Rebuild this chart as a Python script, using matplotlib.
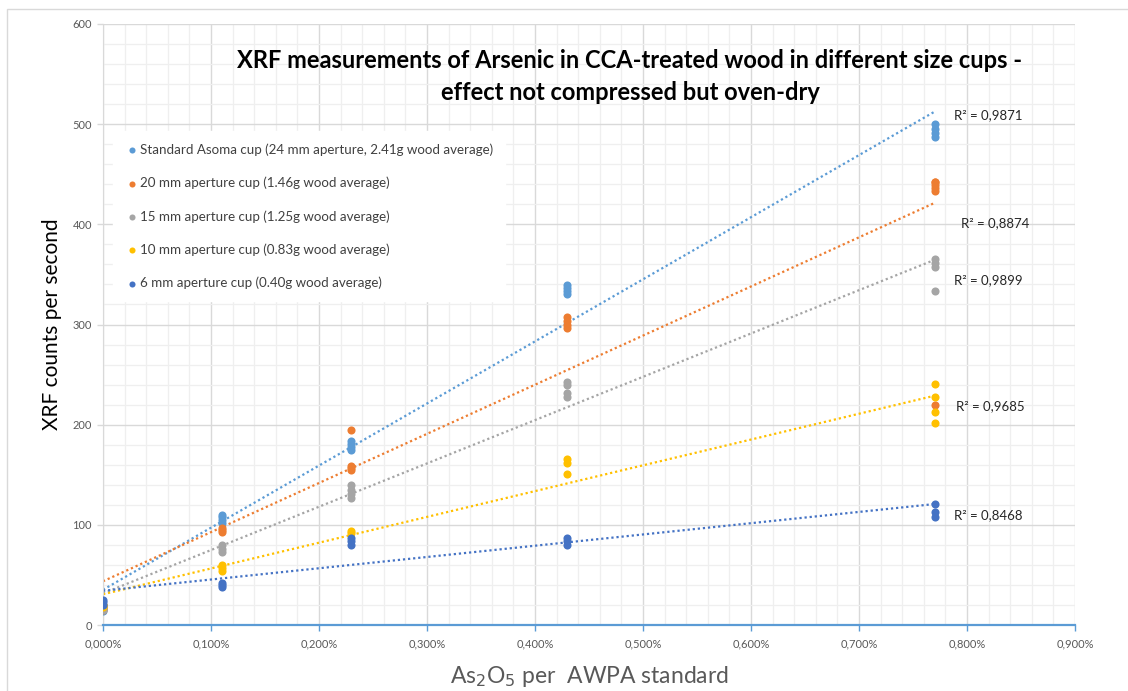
import numpy as np
import matplotlib
matplotlib.use("Agg")
import matplotlib.pyplot as plt
from matplotlib.ticker import MultipleLocator, FuncFormatter
from matplotlib.patches import Rectangle

plt.rcParams['font.family'] = ['Lato', 'DejaVu Sans']

# As2O5 retention levels (% per AWPA standard)
levels = [0.0, 0.11, 0.23, 0.43, 0.77]

series_names = [
    "Standard Asoma cup (24 mm aperture, 2.41g wood average)",
    "20 mm aperture cup (1.46g wood average)",
    "15 mm aperture cup (1.25g wood average)",
    "10 mm aperture cup (0.83g wood average)",
    "6 mm aperture cup (0.40g wood average)",
]
series_colors = ["#5B9BD5", "#ED7D31", "#A5A5A5", "#FFC000", "#4472C4"]

# XRF counts per second, replicate readings at each retention level
cup24 = [[14, 16, 18, 20], [102, 105, 108, 110], [175, 178, 181, 184],
         [330, 333, 336, 339], [487, 491, 495, 500]]
cup20 = [[15, 17, 18, 20], [93, 95, 97], [155, 157, 159, 195],
         [297, 300, 303, 307], [220, 433, 436, 439, 442, 442]]
cup15 = [[15, 17], [73, 76, 80], [127, 131, 135, 140],
         [228, 232, 240, 243], [333, 357, 361, 365]]
cup10 = [[18, 20], [54, 57, 60], [92, 94],
         [151, 162, 166], [202, 213, 228, 241]]
cup6 = [[20, 23, 25], [38, 40, 42], [80, 84, 87],
        [80, 84, 87], [108, 113, 121]]
all_series = [cup24, cup20, cup15, cup10, cup6]

r2_labels = ["R² = 0,9871", "R² = 0,8874", "R² = 0,9899", "R² = 0,9685", "R² = 0,8468"]
r2_pos = [(0.788, 509), (0.794, 401), (0.788, 344), (0.790, 218), (0.788, 110)]

fig = plt.figure(figsize=(11.28, 6.91), dpi=100)
ax = fig.add_axes([103 / 1128, 1 - 625 / 691, 972 / 1128, 601 / 691])

# outer chart border
fig.patches.append(Rectangle((7 / 1128, -5 / 691), 1130 / 1128, 687 / 691,
                             transform=fig.transFigure, fill=False,
                             edgecolor="#D9D9D9", linewidth=1.0))

handles = []
for vals, name, col in zip(all_series, series_names, series_colors):
    xs = np.concatenate([[lv] * len(v) for lv, v in zip(levels, vals)])
    ys = np.concatenate(vals)
    h = ax.scatter(xs, ys, s=34, color=col, zorder=3, label=name, linewidths=0)
    handles.append(h)
    slope, icpt = np.polyfit(xs, ys, 1)
    xl = np.array([levels[0], levels[-1]])
    ax.plot(xl, slope * xl + icpt, color=col, linestyle=(0, (1, 1.3)),
            linewidth=1.6, zorder=2)

for lab, (tx, ty) in zip(r2_labels, r2_pos):
    ax.text(tx, ty, lab, fontsize=9.5, color="#262626", va="center", ha="left")

ax.set_xlim(0, 0.9)
ax.set_ylim(0, 600)
ax.xaxis.set_major_locator(MultipleLocator(0.1))
ax.xaxis.set_minor_locator(MultipleLocator(0.02))
ax.yaxis.set_major_locator(MultipleLocator(100))
ax.yaxis.set_minor_locator(MultipleLocator(20))
ax.xaxis.set_major_formatter(FuncFormatter(lambda v, p: f"{v:.3f}%".replace(".", ",")))
ax.grid(which="major", color="#D9D9D9", linewidth=1.0, zorder=0)
ax.grid(which="minor", color="#EFEFEF", linewidth=0.9, zorder=0)
ax.set_axisbelow(True)
ax.tick_params(which="minor", length=0)
ax.tick_params(which="major", length=4, width=1.0, labelsize=8,
               labelcolor="#595959")
ax.tick_params(axis="x", which="major", color="#5B9BD5", pad=6)
ax.tick_params(axis="y", which="major", color="#D9D9D9", pad=4)

for s in ["top", "right"]:
    ax.spines[s].set_visible(False)
ax.spines["left"].set_color("#D9D9D9")
ax.spines["bottom"].set_color("#5B9BD5")
ax.spines["bottom"].set_linewidth(1.6)

ax.set_xlabel("As$_2$O$_5$ per  AWPA standard", fontsize=16.5, color="#595959", labelpad=10)
ax.set_ylabel("XRF counts per second", fontsize=15, color="#000000")
ax.yaxis.set_label_coords(-0.042, 0.5)

fig.text(0.5585, 1 - 60 / 691,
         "XRF measurements of Arsenic in CCA-treated wood in different size cups -",
         fontsize=17, fontweight="bold", ha="center", va="center", color="#000000")
fig.text(0.5585, 1 - 93 / 691, "effect not compressed but oven-dry",
         fontsize=17, fontweight="bold", ha="center", va="center", color="#000000")

leg = ax.legend(handles=handles, loc="upper left",
                bbox_to_anchor=(10 / 972, (625 - 131) / 601), borderaxespad=0,
                fontsize=9.6, labelspacing=1.57, handletextpad=0.15,
                handlelength=1.0, markerscale=0.75, frameon=True,
                fancybox=False, borderpad=0.9)
leg.get_frame().set_edgecolor("white")
leg.get_frame().set_facecolor("white")
leg.get_frame().set_alpha(1.0)
for t in leg.get_texts():
    t.set_color("#404040")

fig.savefig("out.png", dpi=100)
